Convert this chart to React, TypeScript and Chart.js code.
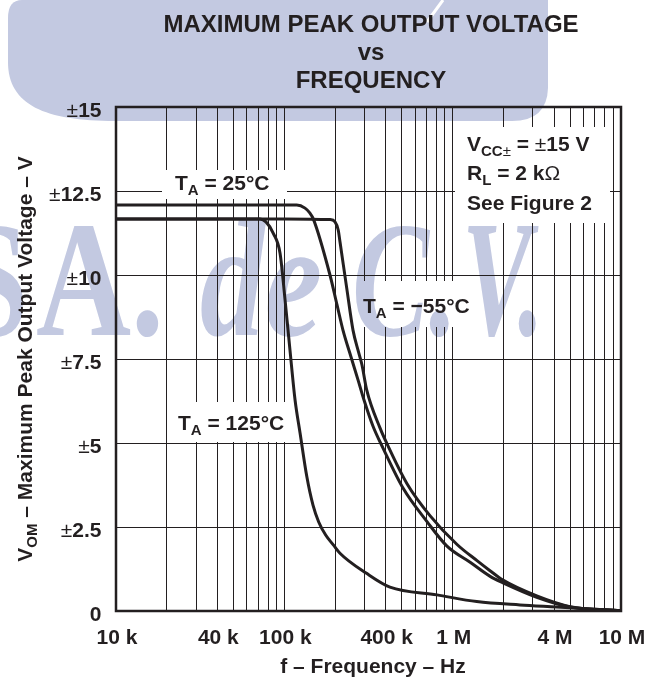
import React, { useEffect, useRef } from 'react';
import { Chart, registerables } from 'chart.js';

Chart.register(...registerables);

// ---------- data ----------
const gridFreqs = [
  10000, 20000, 30000, 40000, 50000, 60000, 70000, 80000, 90000,
  100000, 200000, 300000, 400000, 500000, 600000, 700000, 800000, 900000,
  1000000, 2000000, 3000000, 4000000, 5000000, 6000000, 7000000, 8000000, 9000000,
  10000000,
];
const freqLabelValues = [10000, 40000, 100000, 400000, 1000000, 4000000, 10000000];
const freqLabels = ['10 k', '40 k', '100 k', '400 k', '1 M', '4 M', '10 M'];
const voltTicks = [0, 2.5, 5, 7.5, 10, 12.5, 15];
const voltLabels = ['0', '2.5', '5', '7.5', '10', '12.5', '15'];

const freq25 = [10000, 100000, 118500, 132700, 142000, 148600, 186700, 205600, 223000, 249000, 274000, 297400, 336400, 385700, 507000, 704000, 925000, 1270000, 1670000, 1990000, 3160000, 4980000, 10000000];
const volt25 = [12.08, 12.08, 12.08, 11.99, 11.84, 11.67, 10.0, 9.11, 8.36, 7.56, 6.88, 6.28, 5.5, 4.85, 3.66, 2.66, 1.93, 1.45, 1.03, 0.84, 0.41, 0.12, 0.01];

const freqM55 = [10000, 100000, 186700, 200000, 209000, 214200, 235700, 255800, 275800, 289300, 308500, 370000, 407000, 535500, 733000, 1062000, 1395000, 1667000, 1990000, 3160000, 4980000, 10000000];
const voltM55 = [11.67, 11.67, 11.65, 11.58, 11.34, 10.98, 9.55, 8.36, 7.71, 7.32, 6.58, 5.45, 4.98, 3.79, 2.84, 1.98, 1.5, 1.2, 0.92, 0.45, 0.13, 0.01];

const freq125 = [10000, 71700, 77800, 86000, 94300, 101000, 108000, 115800, 124000, 136000, 148000, 160000, 176000, 196000, 214000, 308000, 424000, 807000, 1390000, 2510000, 4150000, 10000000];
const volt125 = [11.67, 11.67, 11.58, 11.24, 10.65, 9.26, 7.77, 6.28, 5.3, 4.0, 3.15, 2.65, 2.26, 1.96, 1.72, 1.12, 0.71, 0.48, 0.28, 0.18, 0.12, 0.01];

// ---------- styles ----------
const INK = '#231f20';
const WM = '#c3c9e1';
const FF = '"Liberation Sans", Arial, Helvetica, sans-serif';
const B24 = `bold 24px ${FF}`;
const B21 = `bold 21px ${FF}`;
const R21 = `21px ${FF}`;
const S15 = `bold 15px ${FF}`;
const R15 = `15px ${FF}`;

type Part = [string, string, number?];

function measureParts(ctx: CanvasRenderingContext2D, parts: Part[]) {
  let w = 0;
  for (const [t, f] of parts) {
    ctx.font = f;
    w += ctx.measureText(t).width;
  }
  return w;
}

function drawParts(ctx: CanvasRenderingContext2D, parts: Part[], x: number, y: number, align: 'left' | 'center' | 'right' = 'left') {
  const w = measureParts(ctx, parts);
  let cx = align === 'left' ? x : align === 'center' ? x - w / 2 : x - w;
  ctx.textAlign = 'left';
  ctx.textBaseline = 'alphabetic';
  ctx.fillStyle = INK;
  for (const [t, f, dy] of parts) {
    ctx.font = f;
    ctx.fillText(t, cx, y + (dy || 0));
    cx += ctx.measureText(t).width;
  }
}

function drawWatermark(ctx: CanvasRenderingContext2D) {
  ctx.save();
  ctx.fillStyle = WM;
  ctx.beginPath();
  ctx.moveTo(22, 0);
  ctx.lineTo(548, 0);
  ctx.lineTo(548, 88);
  ctx.quadraticCurveTo(547, 121, 512, 121);
  ctx.lineTo(115, 121);
  ctx.bezierCurveTo(45, 121, 8, 105, 8, 62);
  ctx.lineTo(8, 18);
  ctx.quadraticCurveTo(8, 0, 22, 0);
  ctx.closePath();
  ctx.fill();
  ctx.strokeStyle = '#ffffff';
  ctx.lineWidth = 3;
  ctx.beginPath();
  ctx.moveTo(443, 0);
  ctx.lineTo(427, 22);
  ctx.stroke();

  ctx.textAlign = 'left';
  ctx.textBaseline = 'alphabetic';
  const base = 335;
  const up = `bold 165px "Liberation Serif", "Times New Roman", serif`;
  const it = `italic bold 165px "Liberation Serif", "Times New Roman", serif`;
  const pieces: [string, string, number, number][] = [
    ['S', up, -38, 66],
    ['A.', up, 36, 128],
    ['de', it, 200, 122],
    ['C.', it, 352, 106],
    ['V.', it, 462, 82],
  ];
  for (const [t, f, x, mw] of pieces) {
    ctx.font = f;
    ctx.fillText(t, x, base, mw);
  }
  ctx.restore();
}

const boxes = [
  { x: 162, y: 170, w: 125, h: 29 },
  { x: 170, y: 402, w: 120, h: 40 },
  { x: 357, y: 281, w: 121, h: 46 },
  { x: 455, y: 127, w: 155, h: 96 },
];

const decor = {
  id: 'decor',
  beforeDraw(chart: any) {
    drawWatermark(chart.ctx);
  },
  beforeDatasetsDraw(chart: any) {
    const ctx: CanvasRenderingContext2D = chart.ctx;
    const a = chart.chartArea;
    const xs = chart.scales.x;
    const ys = chart.scales.y;

    // label boxes that break the grid
    for (const b of boxes) {
      ctx.save();
      ctx.beginPath();
      ctx.rect(b.x, b.y, b.w, b.h);
      ctx.clip();
      ctx.fillStyle = '#ffffff';
      ctx.fillRect(b.x, b.y, b.w, b.h);
      drawWatermark(ctx);
      ctx.restore();
    }

    // frame
    ctx.save();
    ctx.strokeStyle = INK;
    ctx.lineWidth = 2.5;
    ctx.strokeRect(a.left, a.top, a.right - a.left, a.bottom - a.top);
    ctx.restore();

    ctx.save();
    // title
    drawParts(ctx, [['MAXIMUM PEAK OUTPUT VOLTAGE', B24]], 371, 32, 'center');
    drawParts(ctx, [['vs', B24]], 371, 60, 'center');
    drawParts(ctx, [['FREQUENCY', B24]], 371, 88, 'center');

    // y tick labels
    voltTicks.forEach((v, i) => {
      const y = ys.getPixelForValue(v) + 10;
      const parts: Part[] = v === 0 ? [[voltLabels[i], B21]] : [['±', R21], [voltLabels[i], B21]];
      drawParts(ctx, parts, 101.5, y, 'right');
    });

    // x tick labels
    freqLabelValues.forEach((f, i) => {
      const x = xs.getPixelForValue(f) + 1;
      drawParts(ctx, [[freqLabels[i], B21]], x, 644, 'center');
    });

    // axis titles
    drawParts(ctx, [['f – Frequency – Hz', B21]], 373, 673, 'center');
    ctx.save();
    ctx.translate(32, (a.top + a.bottom) / 2);
    ctx.rotate(-Math.PI / 2);
    drawParts(ctx, [['V', B21], ['OM', S15, 5], [' – Maximum Peak Output Voltage – V', B21]], 0, 0, 'center');
    ctx.restore();

    // curve labels
    drawParts(ctx, [['T', B21], ['A', S15, 5], [' = 25°C', B21]], 175, 190);
    drawParts(ctx, [['T', B21], ['A', S15, 5], [' = 125°C', B21]], 178, 430);
    drawParts(ctx, [['T', B21], ['A', S15, 5], [' = \u221255°C', B21]], 363, 313);

    // conditions
    drawParts(ctx, [['V', B21], ['CC', S15, 5], ['±', R15, 5], [' = ', B21], ['±', R21], ['15 V', B21]], 467, 151);
    drawParts(ctx, [['R', B21], ['L', S15, 5], [' = 2 k', B21], ['Ω', R21]], 467, 180);
    drawParts(ctx, [['See Figure 2', B21]], 467, 210);
    ctx.restore();
  },
};

function toPoints(f: number[], v: number[]) {
  return f.map((x, i) => ({ x, y: v[i] }));
}

export default function App() {
  const ref = useRef<HTMLCanvasElement | null>(null);

  useEffect(() => {
    if (!ref.current) return;
    const lineStyle = {
      borderColor: INK,
      borderWidth: 3,
      pointRadius: 0,
      fill: false,
      cubicInterpolationMode: 'monotone' as const,
      borderJoinStyle: 'round' as const,
    };
    const chart = new Chart(ref.current, {
      type: 'line',
      data: {
        datasets: [
          { label: 'TA = 25°C', data: toPoints(freq25, volt25), ...lineStyle },
          { label: 'TA = −55°C', data: toPoints(freqM55, voltM55), ...lineStyle },
          { label: 'TA = 125°C', data: toPoints(freq125, volt125), ...lineStyle },
        ],
      },
      options: {
        animation: false,
        responsive: false,
        devicePixelRatio: 1,
        layout: { padding: { top: 107, right: 41, left: 0, bottom: 0 } },
        plugins: {
          legend: { display: false },
          title: { display: false },
          tooltip: { enabled: false },
        },
        scales: {
          x: {
            type: 'logarithmic',
            min: 10000,
            max: 10000000,
            afterBuildTicks: (s: any) => {
              s.ticks = gridFreqs.map((v) => ({ value: v }));
            },
            afterFit: (s: any) => {
              s.height = 71;
            },
            ticks: { display: false },
            grid: { color: INK, lineWidth: 1, drawTicks: false },
            border: { display: false },
          },
          y: {
            type: 'linear',
            min: 0,
            max: 15,
            afterBuildTicks: (s: any) => {
              s.ticks = voltTicks.map((v) => ({ value: v }));
            },
            afterFit: (s: any) => {
              s.width = 116;
            },
            ticks: { display: false },
            grid: { color: INK, lineWidth: 1, drawTicks: false },
            border: { display: false },
          },
        },
      } as any,
      plugins: [decor],
    });
    return () => chart.destroy();
  }, []);

  return (
    <div style={{ position: 'absolute', left: 0, top: 0, width: 662, height: 682, background: '#ffffff' }}>
      <canvas ref={ref} width={662} height={682} style={{ width: 662, height: 682, display: 'block' }} />
    </div>
  );
}
